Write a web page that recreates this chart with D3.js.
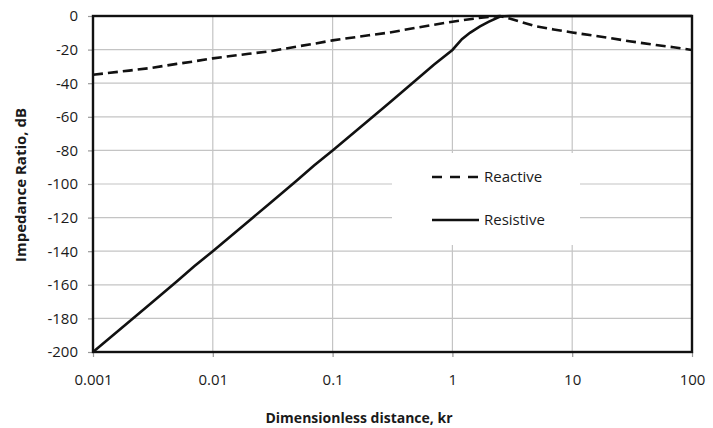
<!DOCTYPE html>
<html>
<head>
<meta charset="utf-8">
<script src="https://cdn.jsdelivr.net/npm/d3@7"></script>
<style>
  body { margin: 0; background: #fff; }
  svg text { font-family: "Open Sans", sans-serif; fill: #1a1a1a; }
</style>
</head>
<body>
<div id="chart"></div>
<script>
// Impedance ratio vs dimensionless distance
const reactiveKr = [0.001, 0.002, 0.003, 0.005, 0.007, 0.01, 0.02, 0.03, 0.05, 0.07, 0.1, 0.2, 0.3, 0.5, 0.7, 1, 1.5, 2, 2.5, 3, 5, 7, 10, 20, 30, 50, 70, 100];
const reactiveDb = [-35, -32.5, -31, -28.5, -27, -25.2, -22.5, -21, -18.2, -16.5, -14.5, -11.5, -9.8, -7, -5.2, -3.4, -1.6, -0.5, 0, -1.5, -6.2, -8, -9.8, -13, -15, -17.3, -18.6, -20.2];

const resistiveKr = [0.001, 0.002, 0.003, 0.005, 0.007, 0.01, 0.02, 0.03, 0.05, 0.07, 0.1, 0.2, 0.3, 0.5, 0.7, 1, 1.2, 1.4, 1.7, 2, 2.5, 3, 5, 10, 100];
const resistiveDb = [-200, -182, -171.5, -158, -149, -140, -122, -111.5, -98, -89, -80, -62, -51.5, -38, -29, -20.2, -13.8, -10, -6.2, -3.5, -0.3, 0, 0, 0, 0];

const xTicks = [0.001, 0.01, 0.1, 1, 10, 100];
const xTickLabels = ["0.001", "0.01", "0.1", "1", "10", "100"];
const yTicks = [0, -20, -40, -60, -80, -100, -120, -140, -160, -180, -200];

const seriesNames = ["Reactive", "Resistive"];

const width = 713;
const height = 428;
const margin = { top: 16, right: 21, bottom: 76, left: 93 };

const svg = d3.select("#chart").append("svg").attr("width", width).attr("height", height);

const x = d3.scaleLog().domain([0.001, 100]).range([margin.left, width - margin.right]);
const y = d3.scaleLinear().domain([-200, 0]).range([height - margin.bottom, margin.top]);

// gridlines
svg.append("g")
  .selectAll("line.gx")
  .data(xTicks)
  .enter()
  .append("line")
  .attr("x1", (d) => x(d)).attr("x2", (d) => x(d))
  .attr("y1", y(0)).attr("y2", y(-200))
  .attr("stroke", "#c4c4c4").attr("stroke-width", 1.2);

svg.append("g")
  .selectAll("line.gy")
  .data(yTicks)
  .enter()
  .append("line")
  .attr("x1", x(0.001)).attr("x2", x(100))
  .attr("y1", (d) => y(d)).attr("y2", (d) => y(d))
  .attr("stroke", "#c4c4c4").attr("stroke-width", 1.2);

// axes
const xAxis = d3.axisBottom(x).tickValues(xTicks).tickSize(5).tickPadding(17)
  .tickFormat((d, i) => xTickLabels[i]);
const yAxis = d3.axisLeft(y).tickValues(yTicks).tickSize(5).tickPadding(10)
  .tickFormat((d) => String(d));

const gx = svg.append("g").attr("transform", `translate(0,${y(-200)})`).call(xAxis);
const gy = svg.append("g").attr("transform", `translate(${x(0.001)},0)`).call(yAxis);
[gx, gy].forEach((g) => {
  g.select(".domain").remove();
  g.selectAll(".tick line").attr("stroke", "#999").attr("stroke-width", 1.2);
  g.selectAll(".tick text").style("font-size", "15px").attr("fill", "#1a1a1a");
});

// lines
const line = d3.line().x((d) => x(d[0])).y((d) => y(d[1]));
const reactive = reactiveKr.map((k, i) => [k, reactiveDb[i]]);
const resistive = resistiveKr.map((k, i) => [k, resistiveDb[i]]);

svg.append("path").datum(resistive).attr("d", line)
  .attr("fill", "none").attr("stroke", "#111").attr("stroke-width", 2.6);
svg.append("path").datum(reactive).attr("d", line)
  .attr("fill", "none").attr("stroke", "#111").attr("stroke-width", 2.6)
  .attr("stroke-dasharray", "10,5");

// plot frame
svg.append("rect")
  .attr("x", x(0.001)).attr("y", y(0))
  .attr("width", x(100) - x(0.001)).attr("height", y(-200) - y(0))
  .attr("fill", "none").attr("stroke", "#111").attr("stroke-width", 2.4);

// legend
const legend = svg.append("g");
legend.append("rect").attr("x", 392).attr("y", 153).attr("width", 188).attr("height", 92).attr("fill", "#fff");
seriesNames.forEach((name, i) => {
  const ly = 177 + i * 43;
  legend.append("line")
    .attr("x1", 432).attr("x2", 479).attr("y1", ly).attr("y2", ly)
    .attr("stroke", "#111").attr("stroke-width", 2.6)
    .attr("stroke-dasharray", i === 0 ? "10,8" : null);
  legend.append("text").attr("x", 484).attr("y", ly).attr("dy", "0.35em")
    .style("font-size", "15px").text(name);
});

// axis titles
svg.append("text")
  .attr("x", 359).attr("y", 418).attr("dy", "0.35em").attr("text-anchor", "middle")
  .style("font-size", "14px").style("font-weight", "bold")
  .text("Dimensionless distance, kr");

svg.append("text")
  .attr("transform", "translate(21,185) rotate(-90)")
  .attr("dy", "0.35em").attr("text-anchor", "middle")
  .style("font-size", "15px").style("font-weight", "bold")
  .text("Impedance Ratio, dB");
</script>
</body>
</html>
